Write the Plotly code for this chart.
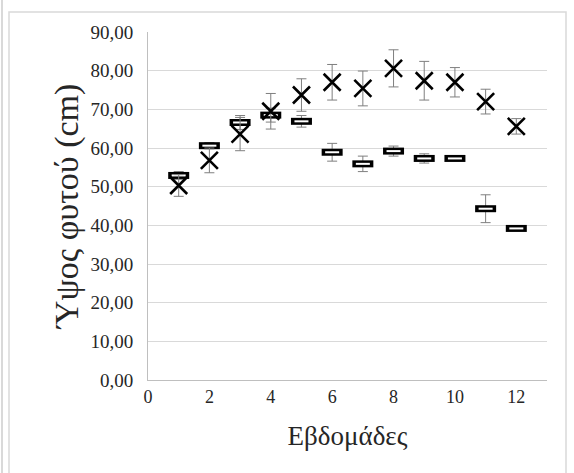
import plotly.graph_objects as go

weeks = [1, 2, 3, 4, 5, 6, 7, 8, 9, 10, 11, 12]
series_x = [50.3, 56.8, 63.6, 69.5, 73.7, 77.0, 75.4, 80.6, 77.4, 77.0, 72.0, 65.6]
series_x_err = [2.8, 3.2, 4.3, 4.6, 4.2, 4.6, 4.5, 4.8, 5.0, 3.8, 3.2, 2.0]
series_d = [52.9, 60.6, 66.6, 68.5, 66.9, 58.9, 55.9, 59.2, 57.3, 57.3, 44.3, 39.2]
series_d_err = [1.0, 0.8, 1.8, 1.8, 1.5, 2.3, 2.0, 1.3, 1.2, 0.5, 3.6, 0.3]
ytick_vals = [0, 10, 20, 30, 40, 50, 60, 70, 80, 90]
ytick_text = ["0,00", "10,00", "20,00", "30,00", "40,00", "50,00", "60,00", "70,00", "80,00", "90,00"]
xtick_vals = [0, 2, 4, 6, 8, 10, 12]

font = "Liberation Serif"
errc = "#7f7f7f"
txtc = "#262626"

fig = go.Figure()
# rectangle-like markers (black bar + white inner line)
fig.add_trace(go.Scatter(
    x=weeks, y=series_d, mode="markers",
    marker=dict(symbol="line-ew", size=15, line=dict(width=7, color="black")),
    error_y=dict(type="data", array=series_d_err, color=errc, thickness=1, width=5),
    showlegend=False, hoverinfo="skip"))
fig.add_trace(go.Scatter(
    x=weeks, y=series_d, mode="markers",
    marker=dict(symbol="line-ew", size=10, line=dict(width=2, color="white")),
    showlegend=False, hoverinfo="skip"))
fig.add_trace(go.Scatter(
    x=weeks, y=series_x, mode="markers",
    marker=dict(symbol="x-thin", size=17, line=dict(width=2.6, color="black")),
    error_y=dict(type="data", array=series_x_err, color=errc, thickness=1, width=5),
    showlegend=False, hoverinfo="skip"))

fig.update_layout(
    width=574, height=473,
    margin=dict(l=148, r=27, t=32, b=93),
    paper_bgcolor="white", plot_bgcolor="white",
    font=dict(family=font, color=txtc, size=18),
    xaxis=dict(range=[0, 13], tickvals=xtick_vals, showgrid=False, zeroline=False,
               showline=True, linecolor="#bfbfbf", linewidth=1, ticks="",
               tickfont=dict(family=font, size=18, color=txtc),
               title=dict(text="Εβδομάδες", font=dict(family=font, size=27, color=txtc), standoff=20)),
    yaxis=dict(range=[0, 90], tickvals=ytick_vals, ticktext=ytick_text, showgrid=True,
               gridcolor="#d9d9d9", gridwidth=1, zeroline=False,
               showline=True, linecolor="#bfbfbf", linewidth=1, ticks="",
               ticklabelstandoff=10,
               tickfont=dict(family=font, size=19, color=txtc),
               title=dict(text="Ύψος φυτού (cm)", font=dict(family=font, size=34, color=txtc), standoff=1)),
    shapes=[
        dict(type="rect", xref="paper", yref="paper",
             x0=(9 - 148) / 399, x1=(566 - 148) / 399,
             y0=(380 - 490) / 348, y1=(380 - 12) / 348,
             line=dict(color="#d9d9d9", width=1.5), fillcolor="rgba(0,0,0,0)", layer="below"),
        dict(type="line", xref="paper", yref="paper",
             x0=(2 - 148) / 399, x1=(2 - 148) / 399,
             y0=(380 - 490) / 348, y1=(380 + 10) / 348,
             line=dict(color="#d9d9d9", width=2), layer="below"),
    ],
)

fig.write_html("out.html", config={"displayModeBar": False},
               post_script="document.body.style.margin='0';document.body.style.overflow='hidden';")
